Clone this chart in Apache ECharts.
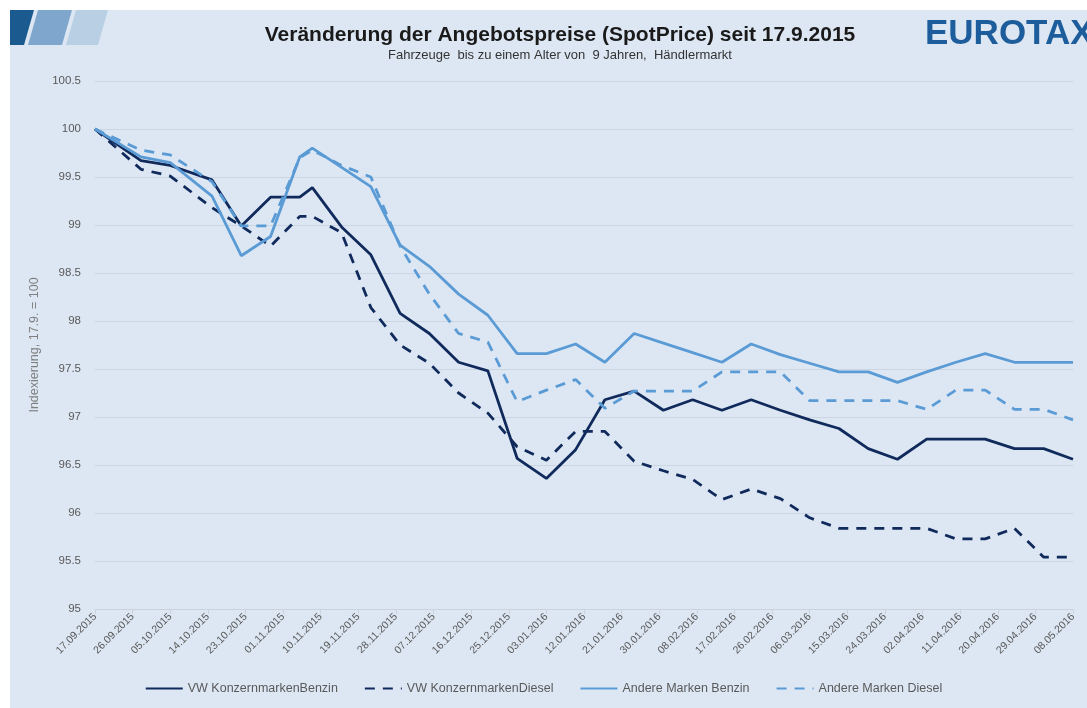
<!DOCTYPE html>
<html>
<head>
<meta charset="utf-8">
<script src="https://cdn.jsdelivr.net/npm/echarts@6/dist/echarts.min.js"></script>
<style>
html, body { margin: 0; padding: 0; background: #fff; }
#main { width: 1087px; height: 708px; }
</style>
</head>
<body>
<div id="main"></div>
<script>
// Messzeitpunkte
const dates = ['17.09.2015','28.09.2015','05.10.2015','15.10.2015','22.10.2015','29.10.2015','05.11.2015','08.11.2015',
  '15.11.2015','22.11.2015','29.11.2015','06.12.2015','13.12.2015','20.12.2015','27.12.2015','03.01.2016',
  '10.01.2016','17.01.2016','24.01.2016','31.01.2016','07.02.2016','14.02.2016','21.02.2016','28.02.2016',
  '06.03.2016','13.03.2016','20.03.2016','27.03.2016','03.04.2016','10.04.2016','17.04.2016','24.04.2016',
  '01.05.2016','08.05.2016'];

const vwBenzin = [100, 99.67, 99.62, 99.47, 98.99, 99.29, 99.29, 99.39, 98.98, 98.69, 98.08, 97.87, 97.57, 97.48,
  96.57, 96.36, 96.66, 97.18, 97.27, 97.07, 97.18, 97.07, 97.18, 97.07, 96.97, 96.88, 96.67, 96.56, 96.77, 96.77,
  96.77, 96.67, 96.67, 96.56];
const vwDiesel = [100, 99.58, 99.51, 99.18, 98.99, 98.78, 99.09, 99.09, 98.92, 98.14, 97.75, 97.56, 97.25, 97.04,
  96.69, 96.55, 96.85, 96.85, 96.54, 96.44, 96.35, 96.14, 96.25, 96.15, 95.95, 95.84, 95.84, 95.84, 95.84, 95.73,
  95.73, 95.84, 95.54, 95.54];
const andereBenzin = [100, 99.71, 99.65, 99.30, 98.68, 98.88, 99.71, 99.80, 99.60, 99.40, 98.79, 98.57, 98.28, 98.06,
  97.66, 97.66, 97.76, 97.57, 97.87, 97.77, 97.67, 97.57, 97.76, 97.65, 97.56, 97.47, 97.47, 97.36, 97.47, 97.57,
  97.66, 97.57, 97.57, 97.57];
const andereDiesel = [100, 99.78, 99.73, 99.45, 98.99, 98.99, 99.70, 99.78, 99.62, 99.50, 98.78, 98.28, 97.87, 97.78,
  97.16, 97.28, 97.39, 97.09, 97.27, 97.27, 97.27, 97.47, 97.47, 97.47, 97.17, 97.17, 97.17, 97.17, 97.08, 97.28,
  97.28, 97.08, 97.08, 96.97];

const tickLabels = ['17.09.2015','26.09.2015','05.10.2015','14.10.2015','23.10.2015','01.11.2015','10.11.2015',
  '19.11.2015','28.11.2015','07.12.2015','16.12.2015','25.12.2015','03.01.2016','12.01.2016','21.01.2016',
  '30.01.2016','08.02.2016','17.02.2016','26.02.2016','06.03.2016','15.03.2016','24.03.2016','02.04.2016',
  '11.04.2016','20.04.2016','29.04.2016','08.05.2016'];

const seriesNames = ['VW KonzernmarkenBenzin', 'VW KonzernmarkenDiesel', 'Andere Marken Benzin', 'Andere Marken Diesel'];

// Tage seit 17.09.2015
function toDay(s) {
    const p = s.split('.');
    return Date.UTC(+p[2], +p[1] - 1, +p[0]) / 86400000;
}
const start = toDay(dates[0]);
const dayOf = dates.map(d => toDay(d) - start);
const pairs = arr => arr.map((v, i) => [dayOf[i], v]);

const dark = '#102a5c';
const light = '#5b9bd5';

let chart = echarts.init(document.getElementById('main'));
let option = {
    backgroundColor: '#ffffff',
    animation: false,
    textStyle: { fontFamily: 'Liberation Sans, Arial, sans-serif' },
    graphic: [
        { type: 'rect', shape: { x: 10, y: 10, width: 1077, height: 698 }, style: { fill: '#dde7f3' }, z: -10 },
        { type: 'polygon', shape: { points: [[10, 10], [34, 10], [24, 45], [10, 45]] }, style: { fill: '#1b5a8e' }, z: -5 },
        { type: 'polygon', shape: { points: [[38, 10], [72, 10], [62, 45], [28, 45]] }, style: { fill: '#7fa6cc' }, z: -5 },
        { type: 'polygon', shape: { points: [[76, 10], [108, 10], [98, 45], [66, 45]] }, style: { fill: '#b9cfe3' }, z: -5 },
        {
            type: 'text', left: 925, top: 17,
            style: { text: 'EUROTAX', fill: '#1e5d9b', font: 'bold 35px "Liberation Sans", Arial, sans-serif' }
        }
    ],
    title: {
        text: 'Veränderung der Angebotspreise (SpotPrice) seit 17.9.2015',
        subtext: 'Fahrzeuge  bis zu einem Alter von  9 Jahren,  Händlermarkt',
        left: 555,
        textAlign: 'center',
        top: 20,
        itemGap: 3,
        textStyle: { fontSize: 21, fontWeight: 'bold', color: '#1a1a1a' },
        subtextStyle: { fontSize: 13, color: '#333' }
    },
    legend: {
        bottom: 8,
        left: 'center',
        itemWidth: 37,
        itemHeight: 10,
        itemGap: 26,
        itemStyle: { opacity: 0 },
        textStyle: { fontSize: 12.5, color: '#595959' },
        data: seriesNames
    },
    grid: { left: 95, right: 14, top: 81, bottom: 99 },
    xAxis: {
        type: 'value',
        min: 0,
        max: 234,
        interval: 9,
        axisLine: { show: true, lineStyle: { color: '#c9d2dd' } },
        axisTick: { show: true, length: 5, lineStyle: { color: '#c9d2dd' } },
        splitLine: { show: false },
        axisLabel: {
            rotate: 45,
            fontSize: 10.5,
            color: '#595959',
            margin: 6,
            formatter: v => tickLabels[Math.round(v / 9)]
        }
    },
    yAxis: {
        type: 'value',
        min: 95,
        max: 100.5,
        interval: 0.5,
        name: 'Indexierung, 17.9. = 100',
        nameLocation: 'middle',
        nameGap: 50,
        nameTextStyle: { fontSize: 12.5, color: '#7f7f7f' },
        axisLine: { show: false },
        axisTick: { show: false },
        axisLabel: { fontSize: 11.5, color: '#595959', margin: 14 },
        splitLine: { lineStyle: { color: '#ccd6e2', width: 1 } }
    },
    series: [
        {
            name: seriesNames[0], type: 'line', symbol: 'none', data: pairs(vwBenzin),
            lineStyle: { color: dark, width: 2.8 }, itemStyle: { color: dark }
        },
        {
            name: seriesNames[1], type: 'line', symbol: 'none', data: pairs(vwDiesel),
            lineStyle: { color: dark, width: 2.8, type: [10, 8] }, itemStyle: { color: dark }
        },
        {
            name: seriesNames[2], type: 'line', symbol: 'none', data: pairs(andereBenzin),
            lineStyle: { color: light, width: 2.8 }, itemStyle: { color: light }
        },
        {
            name: seriesNames[3], type: 'line', symbol: 'none', data: pairs(andereDiesel),
            lineStyle: { color: light, width: 2.8, type: [10, 8] }, itemStyle: { color: light }
        }
    ]
};
chart.setOption(option);
</script>
</body>
</html>
